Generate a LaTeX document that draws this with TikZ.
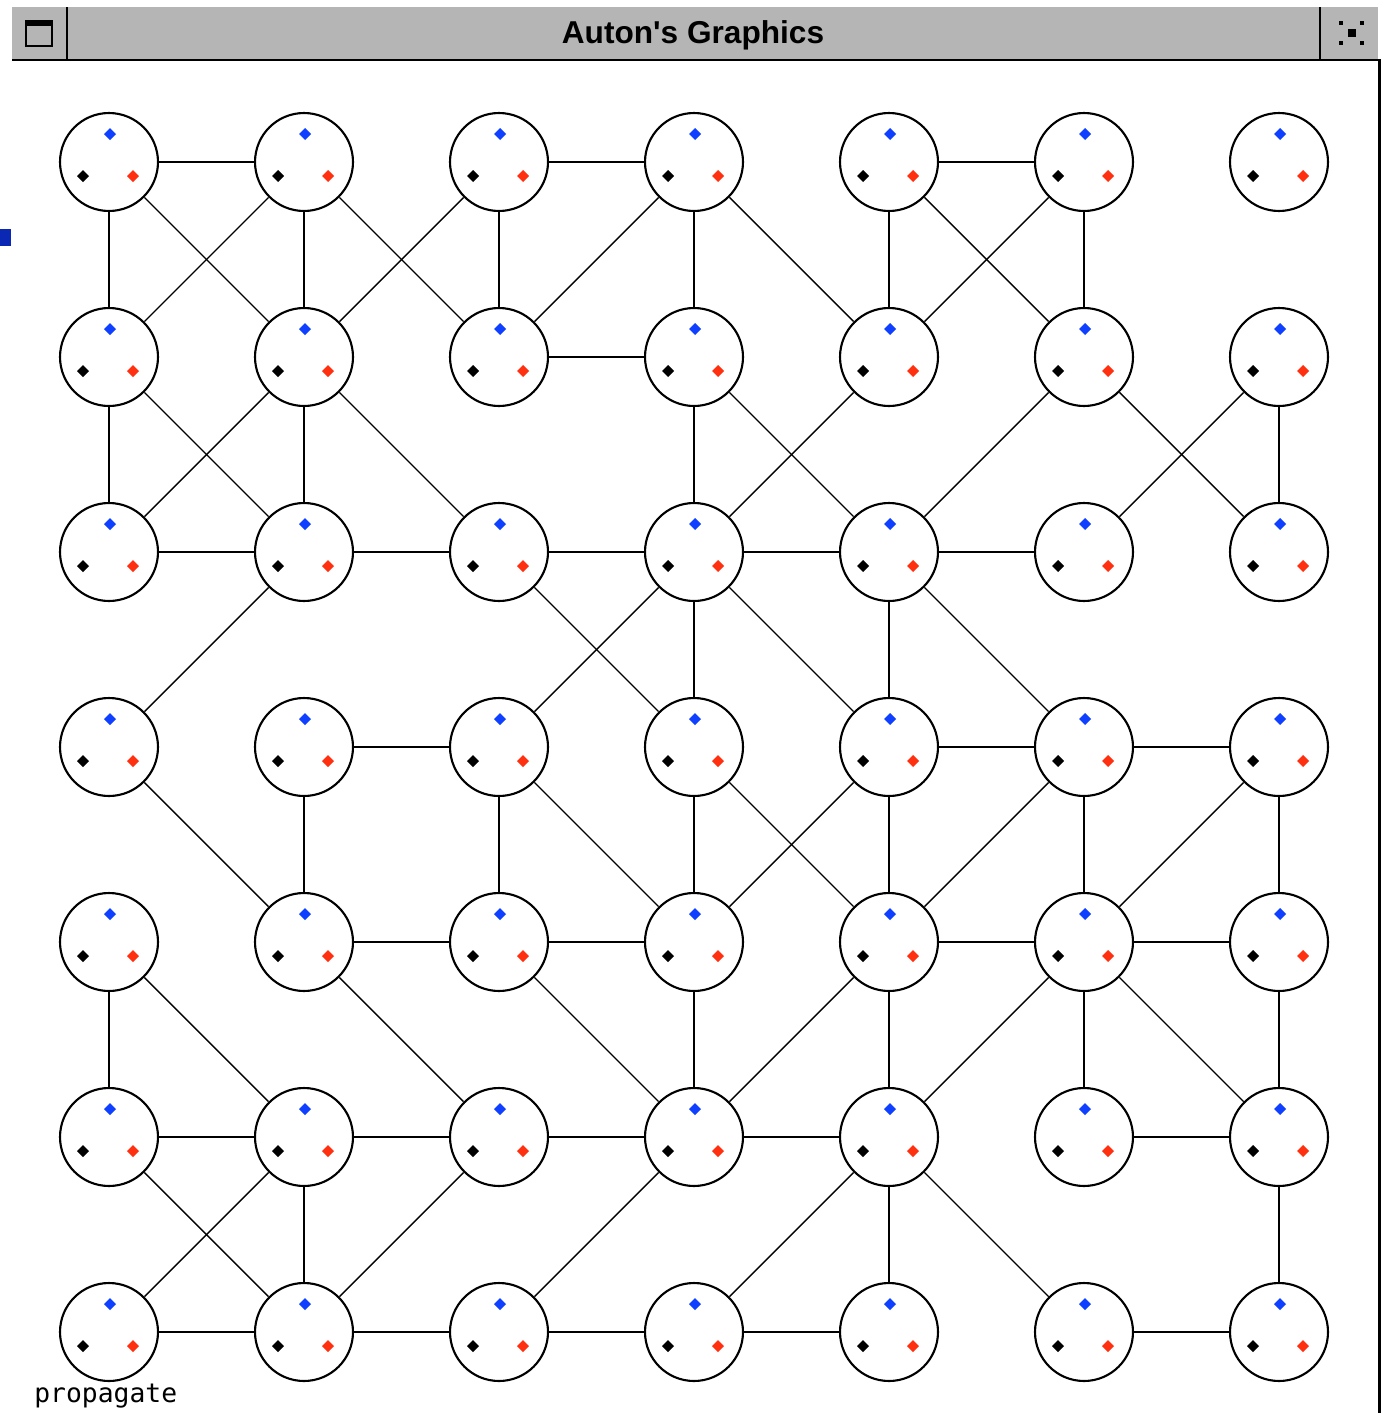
\documentclass[tikz,border=0pt]{standalone}
\usepackage{fontspec}
\newfontfamily\titlefont{Liberation Sans}
\newfontfamily\labelfont{DejaVu Sans Mono}
\definecolor{bargray}{RGB}{181,181,181}
\definecolor{pipblue}{RGB}{16,64,255}
\definecolor{pipred}{RGB}{255,48,16}
\definecolor{markblue}{RGB}{10,40,180}
\newcommand\pip[3]{\fill[#1] (#2,#3) +(-6,0) -- +(0,-6) -- +(6,0) -- +(0,6) -- cycle;}
\tikzset{
  site/.style={draw, circle, line width=1.2pt, minimum size=1.96cm, inner sep=0pt},
  link/.style={line width=1.3pt},
  cross/.style={line width=0.8pt},
}
\begin{document}
\begin{tikzpicture}[x=0.02cm, y=-0.02cm]
  \useasboundingbox (0,0) rectangle (1386,1413);
  % window frame
  \fill[bargray] (12,7) rectangle (1378,59);
  \draw[line width=1.3pt] (12,60) -- (1381,60);
  \draw[line width=1.2pt] (67,7) -- (67,59);
  \draw[line width=1.2pt] (1320,7) -- (1320,59);
  \draw[line width=1.7pt] (1379.5,60) -- (1379.5,1413);
  \draw[line width=1.1pt] (26,22) rectangle (52,46);
  \fill (25,20) rectangle (53,26);
  \fill (1339,21) rectangle (1343,25);
  \fill (1360,21) rectangle (1364,25);
  \fill (1339,41) rectangle (1343,45);
  \fill (1360,41) rectangle (1364,45);
  \fill (1348,29) rectangle (1356,37);
  \fill[markblue] (0,229) rectangle (11,246);
  \node[anchor=base, inner sep=0pt, font=\titlefont\fontsize{18}{20}\selectfont\bfseries] (title) at (693,43) {Auton's Graphics};
  \node[anchor=base west, inner sep=0pt, font=\labelfont\fontsize{15}{17}\selectfont] (label) at (34,1402) {propagate};
  % nodes
  \foreach \r in {0,...,6} {
    \foreach \c in {0,...,6} {
      \pgfmathsetmacro\x{109+195*\c}
      \pgfmathsetmacro\y{162+195*\r}
      \node[site] (n-\r-\c) at (\x,\y) {};
      \pip{pipblue}{\x+1}{\y-28}
      \pip{black}{\x-26}{\y+14}
      \pip{pipred}{\x+24}{\y+14}
    }
  }
  % straight edges
  \foreach \a/\b in {0-0/0-1, 0-2/0-3, 0-4/0-5,
    0-0/1-0, 0-1/1-1, 0-2/1-2, 0-3/1-3, 0-4/1-4, 0-5/1-5,
    1-2/1-3,
    1-0/2-0, 1-1/2-1, 1-3/2-3, 1-6/2-6,
    2-0/2-1, 2-1/2-2, 2-2/2-3, 2-3/2-4, 2-4/2-5,
    2-3/3-3, 2-4/3-4,
    3-1/3-2, 3-4/3-5, 3-5/3-6,
    3-1/4-1, 3-2/4-2, 3-3/4-3, 3-4/4-4, 3-5/4-5, 3-6/4-6,
    4-1/4-2, 4-2/4-3, 4-4/4-5, 4-5/4-6,
    4-0/5-0, 4-3/5-3, 4-4/5-4, 4-5/5-5, 4-6/5-6,
    5-0/5-1, 5-1/5-2, 5-2/5-3, 5-3/5-4, 5-5/5-6,
    5-1/6-1, 5-4/6-4, 5-6/6-6,
    6-0/6-1, 6-1/6-2, 6-2/6-3, 6-3/6-4, 6-5/6-6}
    \draw[link] (n-\a) -- (n-\b);
  % diagonal edges
  \foreach \a/\b in {0-0/1-1, 0-1/1-0, 0-1/1-2, 0-2/1-1, 0-3/1-2, 0-3/1-4, 0-4/1-5, 0-5/1-4,
    1-0/2-1, 1-1/2-0, 1-1/2-2, 1-3/2-4, 1-4/2-3, 1-5/2-4, 1-5/2-6, 1-6/2-5,
    2-1/3-0, 2-2/3-3, 2-3/3-2, 2-3/3-4, 2-4/3-5,
    3-0/4-1, 3-2/4-3, 3-3/4-4, 3-4/4-3, 3-5/4-4, 3-6/4-5,
    4-0/5-1, 4-1/5-2, 4-2/5-3, 4-4/5-3, 4-5/5-4, 4-5/5-6,
    5-0/6-1, 5-1/6-0, 5-2/6-1, 5-3/6-2, 5-4/6-3, 5-4/6-5}
    \draw[cross] (n-\a) -- (n-\b);
\end{tikzpicture}
\end{document}
